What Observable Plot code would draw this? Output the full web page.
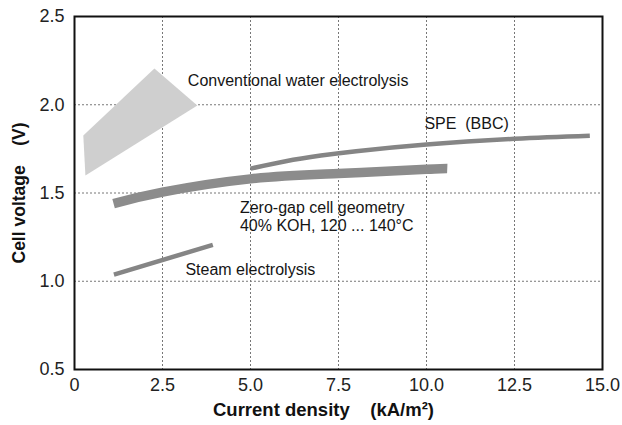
<!DOCTYPE html>
<html>
<head>
<meta charset="utf-8">
<script src="https://cdn.jsdelivr.net/npm/d3@7"></script>
<script src="https://cdn.jsdelivr.net/npm/@observablehq/plot@0.6"></script>
<style>
  html, body { margin: 0; padding: 0; background: #fff; }
  #chart svg { font-family: "Liberation Sans", Arial, sans-serif; }
  g[aria-label="y-axis label"] text {
    font-weight: bold; font-size: 17.5px; fill: #111;
  }
</style>
</head>
<body>
<div id="chart"></div>
<script>
// Conventional water electrolysis (shaded region outline)
const convX = [0.25, 2.27, 3.49, 0.31];
const convY = [1.826, 2.205, 1.996, 1.599];

// Zero-gap cell geometry (thick band)
const zeroGapX = [1.11, 2.5, 5.0, 7.5, 10.0, 10.59];
const zeroGapY = [1.440, 1.505, 1.580, 1.610, 1.634, 1.639];

// SPE (BBC)
const speX = [5.0, 6.0, 7.0, 8.0, 10.0, 12.5, 14.64];
const speY = [1.638, 1.680, 1.712, 1.737, 1.775, 1.807, 1.824];

// Steam electrolysis
const steamX = [1.12, 3.93];
const steamY = [1.038, 1.206];

// Labels
const labelText = ["Conventional water electrolysis", "SPE  (BBC)", "Zero-gap cell geometry", "40% KOH, 120 ... 140°C", "Steam electrolysis"];
const labelX = [3.22, 9.94, 4.70, 4.70, 3.15];
const labelY = [2.137, 1.894, 1.418, 1.316, 1.067];

const xTicks = [0, 2.5, 5.0, 7.5, 10.0, 12.5, 15.0];
const yTicks = [0.5, 1.0, 1.5, 2.0, 2.5];
const nb = "\u00a0";
const xTitle = "Current density" + nb.repeat(4) + "(kA/m²)";
const yTitle = "Cell voltage" + nb.repeat(4) + "(V)";

const zip = (xs, ys) => xs.map((x, i) => ({x, y: ys[i]}));
const conv = zip(convX, convY);
const zeroGap = zip(zeroGapX, zeroGapY);
const spe = zip(speX, speY);
const steam = zip(steamX, steamY);
const labels = labelText.map((t, i) => ({t: t.replace(/  /g, nb + nb), x: labelX[i], y: labelY[i]}));

const fmt = d => d === 0 ? "0" : d.toFixed(1);

const chart = Plot.plot({
  width: 622,
  height: 425,
  marginLeft: 74,
  marginRight: 20,
  marginTop: 16,
  marginBottom: 56,
  style: {fontFamily: '"Liberation Sans", Arial, sans-serif', background: "#fff"},
  x: {domain: [0, 15]},
  y: {domain: [0.5, 2.5]},
  marks: [
    Plot.gridX(xTicks.slice(1, -1), {stroke: "#777", strokeOpacity: 1, strokeDasharray: "2,2", strokeWidth: 1}),
    Plot.gridY(yTicks.slice(1, -1), {stroke: "#777", strokeOpacity: 1, strokeDasharray: "2,2", strokeWidth: 1}),
    Plot.line(conv.concat([conv[0]]), {x: "x", y: "y", stroke: "none", fill: "#cfcfcf"}),
    Plot.line(zeroGap, {x: "x", y: "y", stroke: "#8c8c8c", strokeWidth: 9.5, curve: "natural", strokeLinecap: "butt"}),
    Plot.line(spe, {x: "x", y: "y", stroke: "#858585", strokeWidth: 4.5, curve: "natural", strokeLinecap: "butt"}),
    Plot.line(steam, {x: "x", y: "y", stroke: "#858585", strokeWidth: 4.5, strokeLinecap: "butt"}),
    Plot.text(labels, {x: "x", y: "y", text: "t", textAnchor: "start", lineAnchor: "middle", fontSize: 16, fill: "#151515"}),
    Plot.axisX(xTicks, {tickSize: 0, tickPadding: 9, tickFormat: fmt, fontSize: 18, fill: "#222", label: null}),
    Plot.axisY(yTicks, {tickSize: 0, tickPadding: 10, tickFormat: fmt, fontSize: 18, fill: "#222",
      label: yTitle, labelAnchor: "center", labelOffset: 62, labelArrow: "none"}),
    Plot.text([xTitle], {frameAnchor: "bottom", dx: -15, dy: 41, lineAnchor: "middle", fontSize: 18.5, fontWeight: "bold", fill: "#111"}),
    Plot.frame({stroke: "#111", strokeWidth: 2})
  ]
});
document.getElementById("chart").appendChild(chart);
</script>
</body>
</html>
